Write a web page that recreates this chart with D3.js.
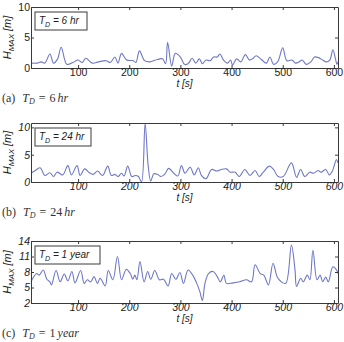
<!DOCTYPE html>
<html>
<head>
<meta charset="utf-8">
<script src="https://cdn.jsdelivr.net/npm/d3@7"></script>
<style>
  body { margin: 0; background: #fff; }
  svg { display: block; }
</style>
</head>
<body>
<div id="chart-area"></div>
<script>
// time axis shared by the three panels
var tDomain = [8, 608];
var tTicks = [100, 200, 300, 400, 500, 600];

// (a) T_D = 6 hr
var t6hr = [8,20,28,35,45,52,60,67,78,90,100,108,115,128,140,155,163,172,178,185,195,208,213,220,230,240,255,265,271,275,283,290,300,308,315,323,330,337,343,350,358,365,372,377,385,392,398,402,410,418,427,435,442,448,458,468,475,482,490,500,508,518,525,532,538,546,555,562,570,578,585,592,598,603,606,608];
var h6hr = [0.8,0.8,1.0,0.8,2.3,0.8,1.5,3.4,0.6,0.9,1.3,0.9,1.6,0.8,1.0,1.2,0.9,1.8,0.8,2.4,1.3,1.2,0.9,2.8,1.2,1.0,1.4,1.5,0.7,4.2,0.3,2.4,1.8,0.6,0.7,1.6,0.8,1.5,0.7,1.3,1.2,1.8,1.8,2.3,1.2,0.8,1.3,0.5,1.5,1.0,2.2,1.3,1.6,2.0,1.4,0.8,1.8,0.6,1.0,3.3,1.2,1.3,0.8,1.0,1.3,0.6,1.0,1.8,1.7,1.3,1.0,1.3,3.0,1.5,0.6,1.0];

// (b) T_D = 24 hr
var t24hr = [8,18,26,35,45,52,59,70,80,87,98,104,113,122,130,138,148,158,165,172,178,185,190,197,205,212,218,224,231,237,242,248,255,262,270,277,288,295,302,309,319,327,335,341,350,361,371,380,390,397,407,415,426,436,446,454,462,474,482,491,501,517,527,535,543,553,560,569,575,584,591,597,605,608];
var h24hr = [1.6,2.2,2.6,1.2,1.7,1.0,1.8,1.3,3.0,1.3,3.0,1.2,2.4,1.7,1.4,2.0,1.2,2.9,1.2,1.4,1.0,1.6,1.1,2.9,1.0,1.2,1.0,0.0,10.7,3.0,0.2,1.5,1.4,1.0,1.5,2.5,1.5,1.1,3.0,1.6,2.7,1.3,2.6,1.2,0.6,2.3,2.0,2.3,2.4,1.8,1.8,1.0,2.3,1.2,2.1,1.0,1.8,2.9,2.3,1.0,1.0,3.5,0.85,2.3,1.0,1.8,1.6,2.1,1.8,2.3,1.3,2.0,4.1,3.5];

// (c) T_D = 1 year
var t1yr = [8,19,24,32,39,45,48,57,65,73,80,88,94,105,112,118,125,131,138,143,153,159,168,177,185,194,202,207,211,215,221,229,236,242,250,259,267,276,283,291,299,306,315,324,332,338,343,348,355,364,372,378,385,390,403,416,429,439,446,456,463,472,481,489,497,506,517,524,527,535,540,548,553,559,567,573,578,584,589,598,605,608];
var h1yr = [6.1,7.7,7.4,8.4,6.6,6.1,5.5,8.3,6.1,7.6,6.3,8.1,5.9,8.3,5.8,6.5,6.1,7.1,5.8,6.8,5.3,8.3,6.5,11.0,6.5,8.5,7.7,6.6,7.4,6.5,10.0,6.1,8.1,6.6,8.3,6.5,6.6,5.3,7.7,6.6,7.9,5.8,8.4,7.4,5.8,4.2,2.5,5.8,7.7,8.1,7.1,6.1,7.4,5.8,5.9,6.1,6.5,6.1,9.4,7.7,7.4,5.5,9.7,7.1,6.1,5.8,13.2,8.4,5.2,6.8,6.1,7.4,6.5,12.2,6.5,7.4,6.1,7.0,6.1,9.0,8.4,7.7];

var panels = [
	{t: t6hr, h: h6hr, yDomain: [0, 10], yTicks: [0, 5, 10], top: 7, bottom: 68,
	 label: "6 hr", cap: "(a)", capVal: "6", capUnit: "hr", legW: 52, tickStyle: "normal"},
	{t: t24hr, h: h24hr, yDomain: [0, 10.8], yTicks: [0, 5, 10], top: 123, bottom: 182,
	 label: "24 hr", cap: "(b)", capVal: "24", capUnit: "hr", legW: 56, tickStyle: "italic"},
	{t: t1yr, h: h1yr, yDomain: [2, 14], yTicks: [2, 5, 8, 11, 14], top: 241, bottom: 303,
	 label: "1 year", cap: "(c)", capVal: "1", capUnit: "year", legW: 65, tickStyle: "italic"}
];

var W = 344, H = 342;
var left = 31, right = 338;
var lineColor = "#6f78c6";
var axisColor = "#3a3a3a";
var sans = "'Liberation Sans', Arial, sans-serif";

var svg = d3.select("#chart-area")
	.append("svg")
		.attr("width", W)
		.attr("height", H);

var x = d3.scaleLinear().domain(tDomain).range([left, right]);

panels.forEach(function(p){
	var y = d3.scaleLinear().domain(p.yDomain).range([p.bottom, p.top]);
	var g = svg.append("g");

	// line
	var pts = p.t.map(function(d, i){ return [d, p.h[i]]; });
	var line = d3.line()
		.x(function(d){ return x(d[0]); })
		.y(function(d){ return y(d[1]); })
		.curve(d3.curveCatmullRom.alpha(0.5));

	g.append("path")
		.datum(pts)
		.attr("fill", "none")
		.attr("stroke", lineColor)
		.attr("stroke-width", 1.1)
		.attr("d", line);

	// axes, matlab-like box with inward ticks
	var xb = g.append("g")
		.attr("transform", "translate(0," + p.bottom + ")")
		.call(d3.axisBottom(x).tickValues(tTicks).tickSizeInner(-3).tickSizeOuter(0).tickPadding(1));
	var xt = g.append("g")
		.attr("transform", "translate(0," + p.top + ")")
		.call(d3.axisTop(x).tickValues(tTicks).tickSizeInner(-3).tickSizeOuter(0).tickFormat(""));
	var yl = g.append("g")
		.attr("transform", "translate(" + left + ",0)")
		.call(d3.axisLeft(y).tickValues(p.yTicks).tickSizeInner(-3).tickSizeOuter(0).tickPadding(1));
	var yr = g.append("g")
		.attr("transform", "translate(" + right + ",0)")
		.call(d3.axisRight(y).tickValues(p.yTicks).tickSizeInner(-3).tickSizeOuter(0).tickFormat(""));

	[xb, xt, yl, yr].forEach(function(a){
		a.selectAll("path, line").attr("stroke", axisColor);
		a.selectAll("text")
			.attr("fill", "#222")
			.style("font-family", sans)
			.style("font-size", "10.5px")
			.style("font-style", p.tickStyle);
	});

	// x label
	g.append("text")
		.attr("x", (left + right) / 2)
		.attr("y", p.bottom + 19)
		.attr("text-anchor", "middle")
		.style("font-family", sans)
		.style("font-size", "10px")
		.style("font-style", "italic")
		.attr("fill", "#222")
		.text("t [s]");

	// y label
	var yLab = g.append("text")
		.attr("transform", "translate(11," + ((p.top + p.bottom) / 2) + ") rotate(-90)")
		.attr("text-anchor", "middle")
		.style("font-family", sans)
		.style("font-size", "11px")
		.style("font-style", "italic")
		.attr("fill", "#222");
	yLab.append("tspan").text("H");
	yLab.append("tspan").attr("dy", 3).style("font-size", "8px").text("MAX");
	yLab.append("tspan").attr("dy", -3).text(" [m]");

	// legend box
	var lx = left + 4, ly = p.top + 5;
	g.append("rect")
		.attr("x", lx).attr("y", ly)
		.attr("width", p.legW).attr("height", 18)
		.attr("fill", "#fff")
		.attr("stroke", axisColor)
		.attr("stroke-width", 1);
	var lt = g.append("text")
		.attr("x", lx + 4).attr("y", ly + 12)
		.style("font-family", sans)
		.style("font-size", "10px")
		.style("font-style", "italic")
		.attr("fill", "#222");
	lt.append("tspan").text("T");
	lt.append("tspan").attr("dy", 3).style("font-size", "7px").text("D");
	lt.append("tspan").attr("dy", -3).text(" = " + p.label);

	// caption below the panel
	var cap = g.append("text")
		.attr("x", 2).attr("y", p.bottom + 34)
		.style("font-family", "'Liberation Serif', 'DejaVu Serif', serif")
		.style("font-size", "12px")
		.attr("fill", "#333");
	cap.append("tspan").text(p.cap);
	cap.append("tspan").attr("dx", 7).style("font-style", "italic").text("T");
	cap.append("tspan").attr("dy", 2).style("font-style", "italic").style("font-size", "8px").text("D");
	cap.append("tspan").attr("dy", -2).attr("dx", 4).text("=");
	cap.append("tspan").attr("dx", 4).text(p.capVal);
	cap.append("tspan").attr("dx", 2).style("font-style", "italic").text(p.capUnit);
});
</script>
</body>
</html>
